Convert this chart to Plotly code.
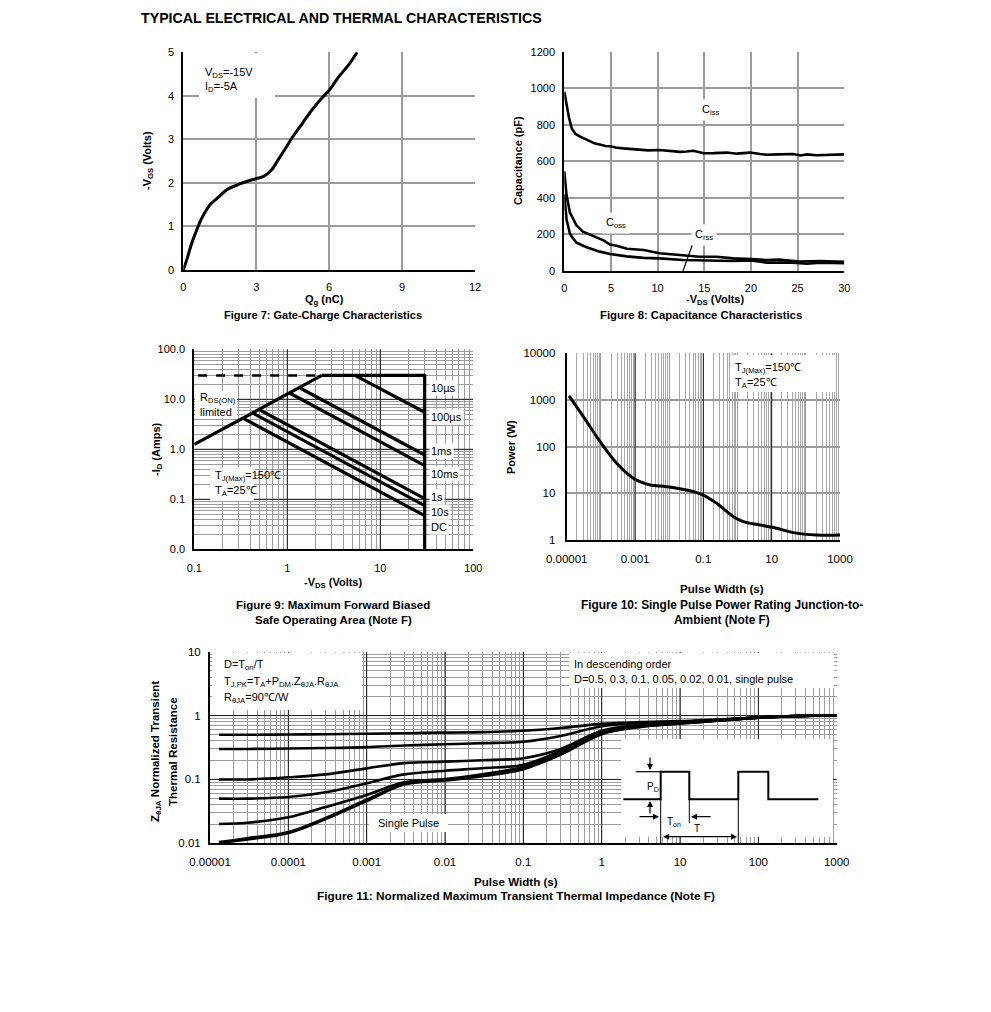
import numpy as np
import plotly.graph_objects as go

W, H = 991, 1012

# ---------------- Figure 7: gate charge ----------------
qg_nc = [0, 0.15, 0.35, 0.55, 0.75, 0.9, 1.1, 1.4, 1.78, 2.3, 2.7, 3.0, 3.3, 3.6, 3.9,
         4.2, 4.5, 4.9, 5.3, 5.7, 6.0, 6.4, 6.8, 7.15]
vgs_v = [0, 0.25, 0.62, 0.92, 1.18, 1.33, 1.5, 1.65, 1.84, 1.97, 2.05, 2.1, 2.15, 2.28, 2.53,
         2.79, 3.06, 3.37, 3.68, 3.95, 4.13, 4.44, 4.71, 5.0]

# ---------------- Figure 8: capacitance ----------------
ciss_vds = [0, 0.25, 0.5, 0.8, 1.2, 1.7, 2.2, 2.75, 3.3, 3.8, 4.4, 4.9, 5.5, 6.3, 7.2, 8.1, 9.0,
            10.2, 11.0, 12.4, 13.1, 13.8, 14.5, 14.9, 16.0, 17.4, 18.5, 19.9, 21.0, 21.7, 23.0,
            24.5, 25.3, 26.0, 27.0, 28.5, 30.0]
ciss_pf = [981, 899, 840, 780, 750, 735, 722, 708, 697, 692, 684, 683, 676, 671, 667, 663, 660,
           662, 658, 652, 654, 658, 650, 644, 645, 648, 642, 648, 640, 636, 638, 640, 632, 638,
           633, 636, 638]
coss_vds = [0, 0.1, 0.25, 0.43, 0.6, 0.8, 1.3, 2.0, 3.1, 4.2, 4.9, 5.6, 6.7, 8.5, 10.2, 12.0,
            13.8, 14.5, 16.3, 18.1, 20.0, 21.7, 23.0, 25.2, 27.4, 30.0]
coss_pf = [545, 480, 410, 365, 320, 300, 250, 215, 190, 168, 145, 138, 122, 115, 97, 88, 80, 78,
           78, 69, 65, 60, 62, 52, 55, 50]
crss_vds = [0, 0.1, 0.25, 0.43, 0.6, 0.8, 1.3, 2.4, 3.8, 4.9, 6.7, 8.5, 10.2, 12.7, 15.2, 18.1,
            20.0, 21.7, 24.5, 26.0, 27.4, 30.0]
crss_pf = [420, 340, 279, 242, 205, 188, 155, 130, 106, 93, 80, 72, 69, 60, 57, 55, 58, 46, 46,
           40, 45, 43]

# ---------------- Figure 9: safe operating area ----------------
soa_rds_vds = [0.1, 2.35]
soa_rds_id = [1.25, 30]
soa_dash_vds = [0.11, 2.35]
soa_limit_vds = [2.35, 30, 30]
soa_limit_id = [30, 30, 0.01]
soa_pulse_start_vds = [5.35, 1.37, 1.07, 0.508, 0.43, 0.336]
soa_pulse_start_id = [30, 16.8, 13.2, 6.1, 5.25, 4.17]
soa_pulse_end_vds = [30, 30, 30, 30, 30, 30]
soa_pulse_end_id = [5.5, 0.77, 0.47, 0.103, 0.075, 0.047]
soa_labels = ["10\u00b5s", "100\u00b5s", "1ms", "10ms", "1s", "10s", "DC"]

# ---------------- Figure 10: single pulse power ----------------
pulse_s = [1.17e-5, 3.07e-5, 9.5e-5, 2.9e-4, 8.9e-4, 1.4e-3, 2.75e-3, 8.5e-3, 3.2e-2, 0.1,
           0.245, 0.76, 1.48, 4.55, 14, 43, 208, 1000]
power_w = [1219, 440, 128, 44, 21, 17.8, 15.1, 13.9, 11.8, 9.2, 6.1, 3.16, 2.47, 2.1, 1.78,
           1.44, 1.28, 1.28]

# ---------------- Figure 11: transient thermal impedance ----------------
zth_t = [1.3e-5, 3e-5, 1e-4, 3e-4, 1e-3, 3e-3, 1e-2, 3e-2, 1e-1, 3e-1, 1, 3, 10, 30, 100, 300, 1000]
zth_d050 = [0.5, 0.5, 0.505, 0.51, 0.52, 0.53, 0.54, 0.55, 0.58, 0.64, 0.74, 0.79, 0.82, 0.87, 0.93, 0.98, 1.0]
zth_d030 = [0.3, 0.3, 0.305, 0.31, 0.32, 0.34, 0.355, 0.37, 0.39, 0.48, 0.68, 0.76, 0.8, 0.86, 0.93, 0.98, 1.0]
zth_d010 = [0.1, 0.1, 0.108, 0.12, 0.149, 0.18, 0.19, 0.2, 0.215, 0.3, 0.58, 0.72, 0.78, 0.85, 0.93, 0.98, 1.0]
zth_d005 = [0.05, 0.05, 0.053, 0.063, 0.087, 0.12, 0.137, 0.15, 0.17, 0.28, 0.55, 0.7, 0.77, 0.84, 0.93, 0.98, 1.0]
zth_d002 = [0.02, 0.021, 0.0255, 0.037, 0.057, 0.09, 0.101, 0.12, 0.158, 0.26, 0.53, 0.68, 0.76, 0.84, 0.93, 0.98, 1.0]
zth_d001 = [0.0105, 0.012, 0.015, 0.025, 0.048, 0.085, 0.098, 0.115, 0.148, 0.25, 0.52, 0.67, 0.75, 0.83, 0.93, 0.98, 1.0]
zth_single = [0.0102, 0.0115, 0.0145, 0.024, 0.046, 0.083, 0.096, 0.112, 0.145, 0.245, 0.51, 0.66, 0.75, 0.83, 0.93, 0.98, 1.0]
zth_series = [zth_d050, zth_d030, zth_d010, zth_d005, zth_d002, zth_d001, zth_single]

# ---------------- layout helpers ----------------
FONT = "Liberation Sans, Arial, sans-serif"
GRID = "#9c9c9c"
DARK = "#1a1a1a"

dom = {
    1: (183.3, 475.0, 52.3, 270.0),
    2: (564.3, 844.3, 51.7, 271.0),
    3: (194.3, 473.3, 349.3, 549.3),
    4: (566.7, 840.0, 353.3, 540.0),
    5: (210.0, 836.7, 651.7, 843.3),
}
# (x type, x lo, x hi, y type, y lo, y hi) -- log ranges given as exponents
rng = {
    1: ("linear", 0, 12, "linear", 0, 5),
    2: ("linear", 0, 30, "linear", 0, 1200),
    3: ("log", -1, 2, "log", -2, 2),
    4: ("log", -5, 3, "log", 0, 4),
    5: ("log", -5, 3, "log", -2, 1),
}


def xd(k):
    a, b, _, _ = dom[k]
    return [a / W, b / W]


def yd(k):
    _, _, t, b = dom[k]
    return [1 - b / H, 1 - t / H]


def sfx(k):
    return "" if k == 1 else str(k)


def fx(k, px):
    a, b, _, _ = dom[k]
    return (px - a) / (b - a)


def fy(k, py):
    _, _, t, b = dom[k]
    return (b - py) / (b - t)


def data_x(k, px):
    t, lo, hi = rng[k][0:3]
    v = lo + fx(k, px) * (hi - lo)
    return 10 ** v if t == "log" else v


def data_y(k, py):
    t, lo, hi = rng[k][3:6]
    v = lo + fy(k, py) * (hi - lo)
    return 10 ** v if t == "log" else v


def PX(px):
    return px / W


def PY(py):
    return 1 - py / H


def minor_vals(e0, e1):
    return [m * 10.0 ** e for e in range(e0, e1) for m in range(2, 10)]


def base_axis(size=11, **kw):
    d = dict(showgrid=True, gridcolor=GRID, gridwidth=1.5, showline=True, linecolor="black",
             linewidth=2, ticks="", zeroline=False, fixedrange=True, automargin=False,
             tickfont=dict(size=size, color="black", family=FONT))
    d.update(kw)
    return d


fig = go.Figure()


def add(x, y, k, width=3, dash=None, shape="linear", color="black"):
    fig.add_trace(go.Scatter(x=x, y=y, mode="lines",
                             line=dict(color=color, width=width, dash=dash, shape=shape),
                             xaxis="x" + sfx(k), yaxis="y" + sfx(k),
                             showlegend=False, hoverinfo="skip"))


# ---- dark major grid lines (drawn as thin traces above the gray grid) ----
def vline(k, xval):
    add([xval, xval], [data_y(k, dom[k][3]), data_y(k, dom[k][2])], k, 1, color=DARK)


def hline(k, yval):
    add([data_x(k, dom[k][0]), data_x(k, dom[k][1])], [yval, yval], k, 1, color=DARK)


for v in [1, 10]:
    vline(3, v)
for v in [0.1, 1, 10]:
    hline(3, v)
for v in [1e-3, 0.1, 10]:
    vline(4, v)
for v in [1e-4, 1e-3, 1e-2, 0.1, 1, 10, 100]:
    vline(5, v)
for v in [0.1, 1]:
    hline(5, v)


# ---- white label boxes (cover grid, below curves) ----
def white_box(k, x0, x1, y0, y1):
    xa, xb = data_x(k, x0), data_x(k, x1)
    ya, yb = data_y(k, y1), data_y(k, y0)
    fig.add_trace(go.Scatter(x=[xa, xb, xb, xa, xa], y=[ya, ya, yb, yb, ya], mode="lines",
                             fill="toself", fillcolor="white", line=dict(color="white", width=0),
                             xaxis="x" + sfx(k), yaxis="y" + sfx(k),
                             showlegend=False, hoverinfo="skip"))


white_box(1, 199, 275, 53.3, 98)
white_box(3, 195, 237, 391, 418)
white_box(3, 210, 254, 467, 501)
white_box(4, 730, 835, 355, 392)
white_box(5, 212, 362, 652.7, 710)
white_box(5, 569, 834, 652.7, 688)
white_box(5, 621, 833, 739, 837)
white_box(5, 369, 448, 814, 832)

# ---- curves ----
add(qg_nc, vgs_v, 1, 3, shape="spline")
add(ciss_vds, ciss_pf, 2, 2.6)
add(coss_vds, coss_pf, 2, 2.6)
add(crss_vds, crss_pf, 2, 2.6)
add(soa_rds_vds, soa_rds_id, 3, 3.2)
add(soa_dash_vds, [soa_limit_id[0], soa_limit_id[0]], 3, 2.4, dash="dash")
add(soa_limit_vds, soa_limit_id, 3, 3.2)
for i in range(len(soa_pulse_start_vds)):
    add([soa_pulse_start_vds[i], soa_pulse_end_vds[i]],
        [soa_pulse_start_id[i], soa_pulse_end_id[i]], 3, 3.2)
add(pulse_s, power_w, 4, 3, shape="spline")
for s in zth_series:
    add(zth_t, s, 5, 2.6, shape="spline")

layout = dict(
    width=W, height=H, margin=dict(l=0, r=0, t=0, b=0, pad=0, autoexpand=False),
    paper_bgcolor="white", plot_bgcolor="white",
    font=dict(family=FONT, size=11, color="black"),
    showlegend=False,
)

XS, YS = 7, 5  # tick label standoffs

layout["xaxis"] = base_axis(domain=xd(1), range=[0, 12], dtick=3, tick0=0, anchor="y",
                            ticklabelstandoff=XS - 1)
layout["yaxis"] = base_axis(domain=yd(1), range=[0, 5], dtick=1, tick0=0, anchor="x",
                            ticklabelstandoff=YS)
layout["xaxis2"] = base_axis(domain=xd(2), range=[0, 30], dtick=5, tick0=0, anchor="y2",
                             ticklabelstandoff=XS - 1)
layout["yaxis2"] = base_axis(domain=yd(2), range=[0, 1200], dtick=200, tick0=0, anchor="x2",
                             ticklabelstandoff=YS)

layout["xaxis3"] = base_axis(domain=xd(3), type="log", range=[-1, 2], anchor="y3",
                             tickmode="array", tickvals=[0.1, 1, 10, 100],
                             ticktext=["0.1", "1", "10", "100"], gridwidth=1,
                             ticklabelstandoff=XS,
                             minor=dict(tickmode="array", tickvals=minor_vals(-1, 2), showgrid=True,
                                        gridcolor=GRID, gridwidth=1, ticks=""))
layout["yaxis3"] = base_axis(domain=yd(3), type="log", range=[-2, 2], anchor="x3",
                             tickmode="array", tickvals=[0.01, 0.1, 1, 10, 100],
                             ticktext=["0.0", "0.1", "1.0", "10.0", "100.0"], gridwidth=1,
                             ticklabelstandoff=YS,
                             minor=dict(tickmode="array", tickvals=minor_vals(-2, 2), showgrid=True,
                                        gridcolor=GRID, gridwidth=1, ticks=""))

dec10 = [10.0 ** e for e in range(-5, 4)]
layout["xaxis4"] = base_axis(size=11.5, domain=xd(4), type="log", range=[-5, 3], anchor="y4",
                             tickmode="array", tickvals=dec10,
                             ticktext=["0.00001", "", "0.001", "", "0.1", "", "10", "", "1000"],
                             gridwidth=1.2, ticklabelstandoff=XS,
                             minor=dict(tickmode="array", tickvals=minor_vals(-5, 3), showgrid=True,
                                        gridcolor="#a8a8a8", gridwidth=1, ticks=""))
layout["yaxis4"] = base_axis(size=11.5, domain=yd(4), type="log", range=[0, 4], anchor="x4",
                             tickmode="array", tickvals=[1, 10, 100, 1000, 10000],
                             ticktext=["1", "10", "100", "1000", "10000"], gridwidth=1.5,
                             ticklabelstandoff=YS + 2)

layout["xaxis5"] = base_axis(size=11.5, domain=xd(5), type="log", range=[-5, 3], anchor="y5",
                             tickmode="array", tickvals=dec10,
                             ticktext=["0.00001", "0.0001", "0.001", "0.01", "0.1", "1", "10", "100", "1000"],
                             gridwidth=1.3, ticklabelstandoff=XS,
                             minor=dict(tickmode="array", tickvals=minor_vals(-5, 3), showgrid=True,
                                        gridcolor=GRID, gridwidth=1.2, ticks=""))
layout["yaxis5"] = base_axis(size=11.5, domain=yd(5), type="log", range=[-2, 1], anchor="x5",
                             tickmode="array", tickvals=[0.01, 0.1, 1, 10],
                             ticktext=["0.01", "0.1", "1", "10"], gridwidth=1.3,
                             ticklabelstandoff=YS,
                             minor=dict(tickmode="array", tickvals=minor_vals(-2, 1), showgrid=True,
                                        gridcolor=GRID, gridwidth=1.2, ticks=""))

shapes = []

# Crss pointer
shapes.append(dict(type="line", xref="paper", yref="paper", x0=PX(693), y0=PY(243),
                   x1=PX(683), y1=PY(271), line=dict(color="black", width=1.2), layer="above"))

# inset pulse diagram (Fig 11)
pts = [(623.3, 799.3), (660.7, 799.3), (660.7, 771.7), (689.3, 771.7), (689.3, 799.3),
       (738.3, 799.3), (738.3, 771.7), (768.3, 771.7), (768.3, 799.3), (818.3, 799.3)]
pulse_path = "M " + " L ".join("{:.5f},{:.5f}".format(PX(a), PY(b)) for a, b in pts)
shapes.append(dict(type="path", xref="paper", yref="paper", path=pulse_path,
                   line=dict(color="black", width=2), layer="above"))
for (xa, ya, xb, yb, w) in [(636, 771.7, 660.7, 771.7, 1.2),
                            (660.7, 799.3, 660.7, 843, 1),
                            (689.3, 799.3, 689.3, 823, 1),
                            (738.3, 799.3, 738.3, 843, 1)]:
    shapes.append(dict(type="line", xref="paper", yref="paper", x0=PX(xa), y0=PY(ya),
                       x1=PX(xb), y1=PY(yb), line=dict(color="black", width=w), layer="above"))
layout["shapes"] = shapes

ann = []


def txt(text, x, y, xanchor="center", size=11, angle=0, bg=None, pad=1):
    a = dict(text=text, x=PX(x), y=PY(y), xref="paper", yref="paper", showarrow=False,
             xanchor=xanchor, yanchor="middle", font=dict(size=size, color="black", family=FONT),
             textangle=angle)
    if bg:
        a.update(bgcolor=bg, borderpad=pad)
    ann.append(a)


def arrow(xh, yh, xt, yt, both=False):
    a = dict(text="", x=PX(xh), y=PY(yh), xref="paper", yref="paper", showarrow=True,
             ax=xt - xh, ay=yt - yh, arrowhead=2, arrowsize=1, arrowwidth=1.2, arrowcolor="black")
    if both:
        a.update(arrowside="end+start")
    ann.append(a)


txt("<b>TYPICAL ELECTRICAL AND THERMAL CHARACTERISTICS</b>", 139, 18, "left", 14.2)

# Fig 7 texts
txt("<b>-V<sub>GS</sub> (Volts)</b>", 148, 161, angle=-90)
txt("<b>Q<sub>g</sub> (nC)</b>", 324, 299.5)
txt("<b>Figure 7: Gate-Charge Characteristics</b>", 323, 315)
txt("V<sub>DS</sub>=-15V", 203, 73, "left")
txt("I<sub>D</sub>=-5A", 203, 87, "left")

# Fig 8 texts
txt("<b>Capacitance (pF)</b>", 518, 161, angle=-90)
txt("<b>-V<sub>DS</sub> (Volts)</b>", 715, 299.5)
txt("<b>Figure 8: Capacitance Characteristics</b>", 701, 315, size=11.3)
txt("C<sub>iss</sub>", 711, 110, bg="white", pad=3)
txt("C<sub>oss</sub>", 616, 223, bg="white", pad=3)
txt("C<sub>rss</sub>", 704, 235, bg="white", pad=3)

# Fig 9 texts
txt("<b>-I<sub>D</sub> (Amps)</b>", 157, 449, angle=-90)
txt("<b>-V<sub>DS</sub> (Volts)</b>", 333, 583)
txt("<b>Figure 9: Maximum Forward Biased</b>", 333, 605, size=11.5)
txt("<b>Safe Operating Area (Note F)</b>", 333, 620, size=11.5)
txt("R<sub>DS(ON)</sub>", 198, 398, "left")
txt("limited", 198, 412, "left")
txt("T<sub>J(Max)</sub>=150\u2103", 213, 476, "left")
txt("T<sub>A</sub>=25\u2103", 213, 491, "left")
for lab, yy in zip(soa_labels, [388, 417, 451, 474, 497, 512, 527]):
    txt(lab, 429, yy, "left", bg="white", pad=1)

# Fig 10 texts
txt("<b>Power (W)</b>", 511, 447, angle=-90)
txt("<b>Pulse Width (s)</b>", 722, 588, size=11.6)
txt("<b>Figure 10: Single Pulse Power Rating Junction-to-</b>", 722, 605, size=11.9)
txt("<b>Ambient (Note F)</b>", 722, 620, size=11.9)
txt("T<sub>J(Max)</sub>=150\u2103", 733, 368, "left")
txt("T<sub>A</sub>=25\u2103", 733, 383, "left")

# Fig 11 texts
txt("<b>Z<sub>\u03b8JA</sub> Normalized Transient</b>", 156, 752, size=11.5, angle=-90)
txt("<b>Thermal Resistance</b>", 173, 752, size=11.5, angle=-90)
txt("<b>Pulse Width (s)</b>", 516, 881, size=11.6)
txt("<b>Figure 11: Normalized Maximum Transient Thermal Impedance (Note F)</b>", 516, 896, size=11.8)
txt("D=T<sub>on</sub>/T", 222, 665, "left")
txt("T<sub>J,PK</sub>=T<sub>A</sub>+P<sub>DM</sub>.Z<sub>\u03b8JA</sub>.R<sub>\u03b8JA</sub>", 222, 682, "left")
txt("R<sub>\u03b8JA</sub>=90\u2103/W", 222, 698, "left")
txt("In descending order", 572, 664, "left")
txt("D=0.5, 0.3, 0.1, 0.05, 0.02, 0.01, single pulse", 572, 679, "left")
txt("Single Pulse", 408, 823)
txt("P<sub>D</sub>", 653, 787, size=10)
txt("T<sub>on</sub>", 674, 822, size=10)
txt("T", 697, 828, size=10)
arrow(650, 770, 650, 756)
arrow(650, 801, 650, 815)
arrow(659, 816.7, 638, 816.7)
arrow(691, 816.7, 712, 816.7)
arrow(737, 836.7, 661.7, 836.7, both=True)

layout["annotations"] = ann
fig.update_layout(**layout)
fig.write_html("out.html", config={"displayModeBar": False},
               post_script="document.body.style.margin='0';")
